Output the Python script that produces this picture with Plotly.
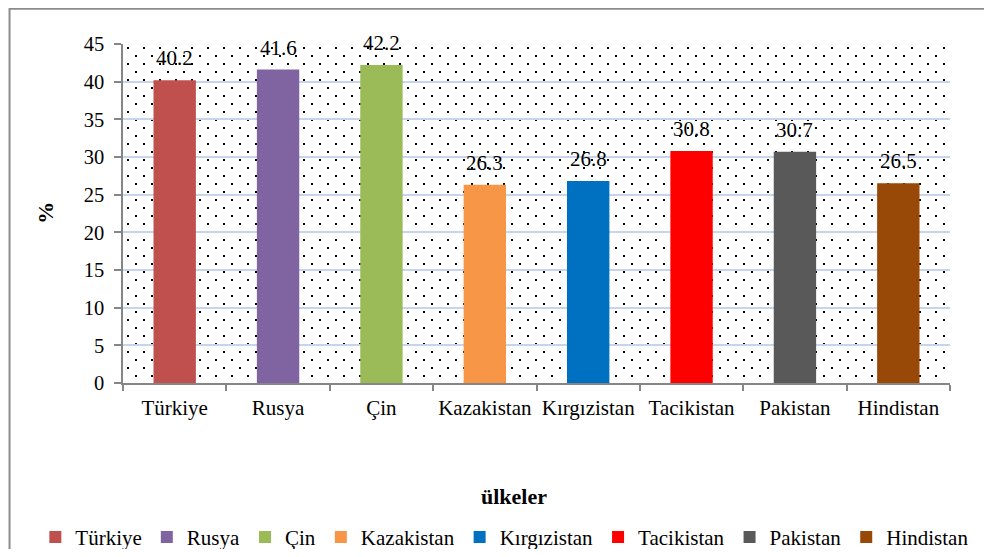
import base64
import plotly.graph_objects as go

# ---- data ----
countries = ["Türkiye", "Rusya", "Çin", "Kazakistan", "Kırgızistan", "Tacikistan", "Pakistan", "Hindistan"]
values = [40.2, 41.6, 42.2, 26.3, 26.8, 30.8, 30.7, 26.5]
colors = ["#C0504D", "#8064A2", "#9BBB59", "#F79646", "#0070C0", "#FF0000", "#595959", "#984807"]
y_ticks = [0, 5, 10, 15, 20, 25, 30, 35, 40, 45]
x_title = "ülkeler"
y_title = "%"

FONT = "'Times New Roman', 'Liberation Serif', 'DejaVu Serif', serif"

# dotted background pattern (decoration of the plot area)
svg = ("<svg xmlns='http://www.w3.org/2000/svg' width='827' height='339' viewBox='0 0 827 339' "
       "preserveAspectRatio='none'><defs><pattern id='p' width='16' height='16' patternUnits='userSpaceOnUse'>"
       "<rect x='4' y='3' width='2' height='2' fill='black'/>"
       "<rect x='12' y='11' width='2' height='2' fill='black'/></pattern></defs>"
       "<rect width='827' height='339' fill='white'/>"
       "<rect width='827' height='339' fill='url(#p)'/></svg>")
svg_uri = "data:image/svg+xml;base64," + base64.b64encode(svg.encode()).decode()

fig = go.Figure()
for c, v, col in zip(countries, values, colors):
    fig.add_trace(go.Bar(x=[c], y=[v], name=c, marker=dict(color=col, line=dict(width=0)),
                         width=0.41, hoverinfo="x+y"))

annotations = []
for c, v in zip(countries, values):
    annotations.append(dict(x=c, y=v, xref="x", yref="y", text=f"{v:.1f}", showarrow=False,
                            yanchor="bottom", yshift=8, font=dict(family=FONT, size=21, color="#000")))
annotations.append(dict(x=0.473, y=-0.336, xref="paper", yref="paper", text=f"<b>{x_title}</b>",
                        showarrow=False, xanchor="center", yanchor="middle",
                        font=dict(family=FONT, size=22, color="#000")))
annotations.append(dict(x=-0.094, y=0.503, xref="paper", yref="paper", text=f"<b>{y_title}</b>",
                        showarrow=False, textangle=-90, xanchor="center", yanchor="middle",
                        font=dict(family=FONT, size=22, color="#000")))

fig.update_layout(
    width=976, height=541,
    margin=dict(l=115, r=34, t=36, b=166, autoexpand=False),
    paper_bgcolor="white", plot_bgcolor="white",
    barmode="overlay",
    font=dict(family=FONT, size=21, color="#000"),
    showlegend=True,
    legend=dict(orientation="h", xref="paper", yref="paper", x=-0.106, xanchor="left",
                y=-0.455, yanchor="middle",
                font=dict(family=FONT, size=21, color="#000"), itemsizing="constant",
                bgcolor="rgba(0,0,0,0)"),
    annotations=annotations,
    images=[dict(source=svg_uri, xref="paper", yref="paper", x=0, y=1, sizex=1, sizey=1,
                 xanchor="left", yanchor="top", sizing="stretch", layer="below")],
    shapes=[dict(type="path", xref="paper", yref="paper",
                 path="M -0.1372,-0.7 L -0.1372,1.104 L 1.2,1.104",
                 line=dict(color="#8c8c8c", width=2))],
)

fig.update_xaxes(
    type="category", categoryorder="array", categoryarray=countries, range=[-0.5, 7.5],
    showline=True, linecolor="#868686", linewidth=1.5, automargin=False,
    ticks="outside", tickson="boundaries", ticklen=6, tickcolor="#868686", tickwidth=1.5,
    ticklabelstandoff=5,
    showgrid=False, tickfont=dict(family=FONT, size=21, color="#000"),
)
fig.update_yaxes(
    range=[0, 45], tickvals=y_ticks, ticktext=[str(t) for t in y_ticks],
    showline=True, linecolor="#868686", linewidth=1.5, automargin=False,
    ticks="outside", ticklen=7, tickcolor="#868686", tickwidth=1.5, ticklabelstandoff=6,
    showgrid=True, gridcolor="#C6D4EC", gridwidth=2, zeroline=False,
    tickfont=dict(family=FONT, size=20.5, color="#000"),
)

fig.write_html("out.html")
